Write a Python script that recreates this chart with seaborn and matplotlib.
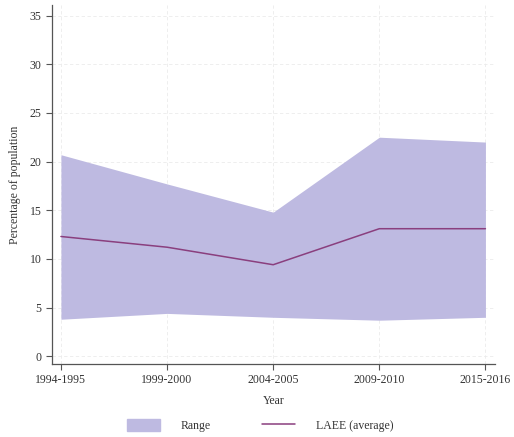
import matplotlib.pyplot as plt
import matplotlib.patches as mpatches
import matplotlib.lines as mlines
import pandas as pd
import numpy as np
import seaborn as sns

years = ['1994-1995', '1999-2000', '2004-2005', '2009-2010', '2015-2016']
range_low = [3.8, 4.4, 4.0, 3.7, 4.0]
range_high = [20.7, 17.7, 14.8, 22.5, 22.0]
laee_avg = [12.3, 11.2, 9.4, 13.1, 13.1]

df = pd.DataFrame({'year': years, 'low': range_low, 'high': range_high, 'avg': laee_avg})
df['pos'] = np.arange(len(years))

sns.set_style('white')
plt.rcParams['font.family'] = ['Liberation Serif', 'DejaVu Serif']

fill_color = '#bebae1'
line_color = '#8a3f7e'

fig = plt.figure(figsize=(5.14, 4.37), dpi=100)
ax = fig.add_axes([0.101, 0.167, 0.862, 0.822])

# shaded range between min and max
ax.fill_between(df['pos'], df['low'], df['high'], color=fill_color, lw=0, zorder=1)
sns.lineplot(x='pos', y='avg', data=df, color=line_color, lw=1.1, ax=ax, zorder=2)

ax.set_xlim(-0.085, 4.09)
ax.set_ylim(-0.8, 36.1)
ax.set_xticks(df['pos'])
ax.set_xticklabels(years)
ax.set_yticks(range(0, 36, 5))

ax.grid(True, color='#ebebeb', lw=0.6, ls=(0, (4, 3)), zorder=0)
ax.set_axisbelow(True)

for side in ['top', 'right']:
    ax.spines[side].set_visible(False)
for side in ['left', 'bottom']:
    ax.spines[side].set_color('#555555')
    ax.spines[side].set_linewidth(0.9)

ax.tick_params(axis='both', which='major', direction='out', length=4, width=0.8,
               color='#555555', labelsize=8.5, labelcolor='#333333', bottom=True, left=True)

ax.set_xlabel('Year', fontsize=8.5, color='#333333', labelpad=6)
ax.set_ylabel('Percentage of population', fontsize=8.5, color='#333333', labelpad=6)

handles = [mpatches.Patch(color=fill_color, label='Range'),
           mlines.Line2D([], [], color=line_color, lw=1.1, label='LAEE (average)')]
fig.legend(handles=handles, loc='center', bbox_to_anchor=(0.506, 0.027), ncol=2,
           frameon=False, fontsize=8.5, handlelength=2.8, handleheight=1.3,
           columnspacing=4.3, handletextpad=1.8, labelcolor='#333333')

fig.savefig('out.png', dpi=100)
